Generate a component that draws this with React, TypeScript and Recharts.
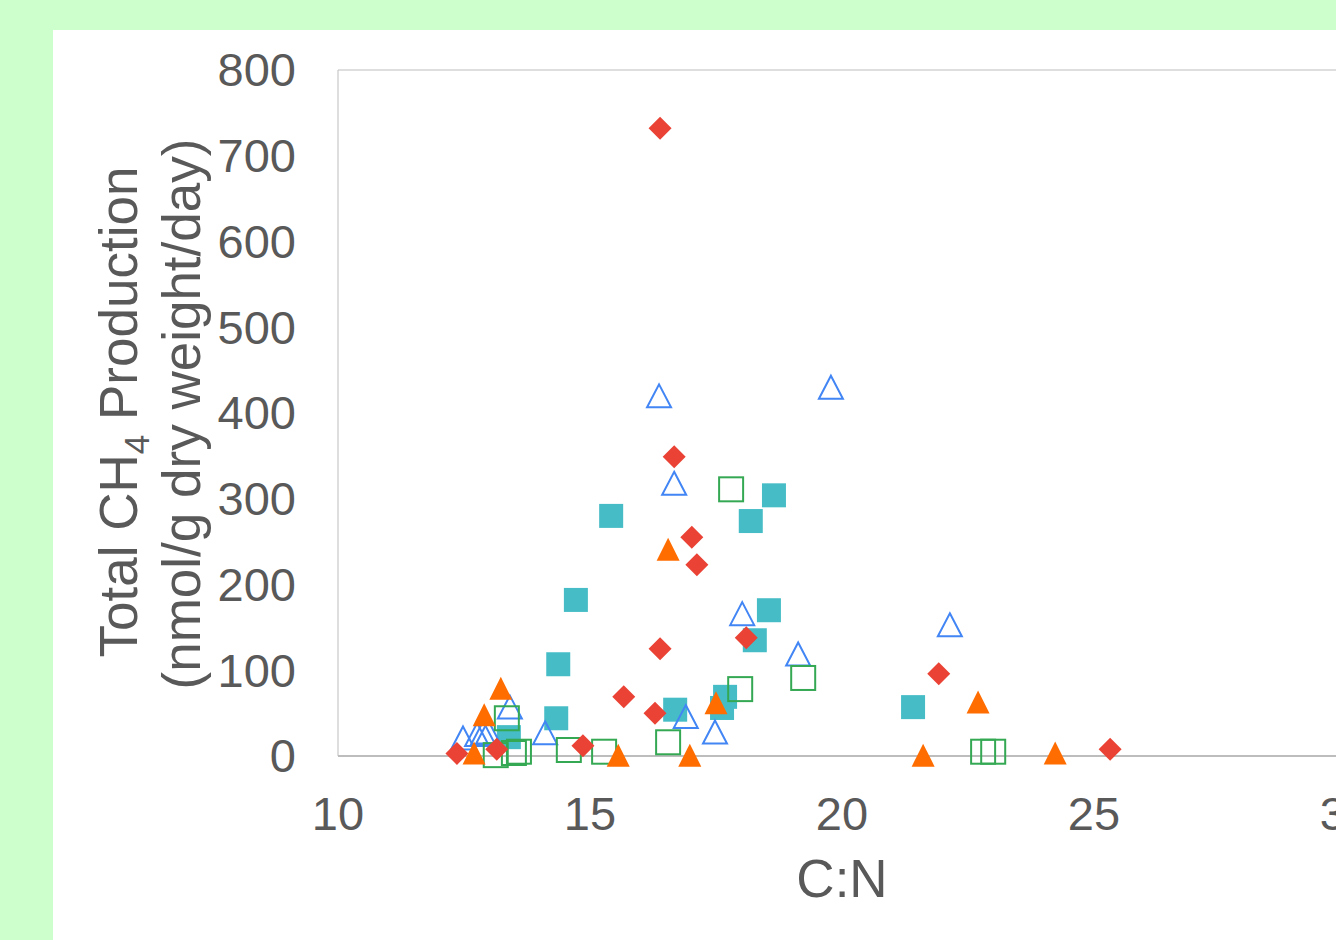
import { ScatterChart, Scatter, XAxis, YAxis, ReferenceLine } from 'recharts'

// series values (x = C:N, y = nmol/g dry weight/day)
const redX = [16.39, 16.67, 17.02, 17.12, 16.39, 18.1, 15.67, 16.29, 14.86, 12.36, 13.15, 21.92, 25.32]
const redY = [732, 349, 255, 223, 125, 138, 69, 50, 12, 3, 8, 96, 8]

const tealX = [15.42, 14.72, 14.37, 14.33, 13.39, 16.69, 17.68, 17.62, 18.19, 18.65, 18.55, 18.27, 21.41]
const tealY = [280, 182, 107, 44, 22, 54, 69, 56, 274, 304, 170, 135, 57]

const orangeX = [16.55, 13.23, 12.9, 12.7, 15.56, 16.98, 17.5, 21.61, 22.7, 24.23]
const orangeY = [241, 79, 48, 3.5, 1, 1, 62, 1, 63, 3.5]

const blueX = [16.37, 19.78, 16.67, 18.02, 19.13, 22.14, 16.9, 17.48, 14.11, 13.41, 12.48, 12.76, 12.88, 12.98]
const blueY = [420, 430, 318, 166, 119, 153, 46, 28, 27, 57, 21, 25, 27, 28]

const greenX = [17.8, 17.98, 19.23, 16.55, 14.58, 15.28, 13.35, 13.13, 13.49, 13.59, 22.8, 23.0]
const greenY = [311, 78, 91, 16, 7, 5, 44, 1, 3.5, 5, 5, 5]

const xTicks = [10, 15, 20, 25, 30]
const yTicks = [0, 100, 200, 300, 400, 500, 600, 700, 800]

const FONT = '"Liberation Sans", Arial, sans-serif'
const TEXT = '#595959'
const AXIS = '#BDBDBD'

const toPoints = (xs: number[], ys: number[]) => xs.map((x, i) => ({ x, y: ys[i] }))

const redData = toPoints(redX, redY)
const tealData = toPoints(tealX, tealY)
const orangeData = toPoints(orangeX, orangeY)
const blueData = toPoints(blueX, blueY)
const greenData = toPoints(greenX, greenY)

const Diamond = ({ cx, cy }: any) => (
  <polygon
    points={`${cx},${cy - 11.5} ${cx + 11.5},${cy} ${cx},${cy + 11.5} ${cx - 11.5},${cy}`}
    fill="#EA4335"
  />
)
const FilledSquare = ({ cx, cy }: any) => <rect x={cx - 12} y={cy - 12} width={24} height={24} fill="#46BDC6" />
const HollowSquare = ({ cx, cy }: any) => (
  <rect x={cx - 12} y={cy - 12} width={24} height={24} fill="none" stroke="#34A853" strokeWidth={2} />
)
const FilledTriangle = ({ cx, cy }: any) => (
  <polygon points={`${cx},${cy - 11.5} ${cx + 11.5},${cy + 11.5} ${cx - 11.5},${cy + 11.5}`} fill="#FF6D01" />
)
const HollowTriangle = ({ cx, cy }: any) => (
  <polygon
    points={`${cx},${cy - 11.5} ${cx + 12},${cy + 11.5} ${cx - 12},${cy + 11.5}`}
    fill="none"
    stroke="#4285F4"
    strokeWidth={2}
  />
)

const YTick = ({ x, y, payload }: any) => (
  <text x={x - 42} y={y} dy="0.35em" textAnchor="end" fontSize={47} fill={TEXT} fontFamily={FONT}>
    {payload.value}
  </text>
)
const XTick = ({ x, y, payload }: any) => (
  <text x={x} y={y + 74} textAnchor="middle" fontSize={47} fill={TEXT} fontFamily={FONT}>
    {payload.value}
  </text>
)

export default function App() {
  return (
    <div
      style={{
        position: 'absolute',
        left: 0,
        top: 0,
        width: 1336,
        height: 940,
        background: '#CCFFCC',
        overflow: 'hidden',
      }}
    >
      <div style={{ position: 'absolute', left: 53, top: 30, width: 1320, height: 910, background: '#fff' }}>
        <ScatterChart width={1320} height={910} margin={{ top: 40, right: 27, bottom: 0, left: 0 }}>
          <XAxis
            type="number"
            dataKey="x"
            domain={[10, 30]}
            ticks={xTicks}
            interval={0}
            height={184}
            tickLine={false}
            tickSize={0}
            tickMargin={0}
            axisLine={{ stroke: AXIS, strokeWidth: 2 }}
            tick={<XTick />}
          />
          <YAxis
            type="number"
            dataKey="y"
            domain={[0, 800]}
            ticks={yTicks}
            interval={0}
            width={285}
            tickLine={false}
            tickSize={0}
            tickMargin={0}
            axisLine={{ stroke: AXIS, strokeWidth: 1 }}
            tick={<YTick />}
          />
          <ReferenceLine y={800} stroke={AXIS} strokeWidth={1} ifOverflow="visible" />
          <ReferenceLine x={30} stroke={AXIS} strokeWidth={1} ifOverflow="visible" />
          <Scatter data={tealData} shape={<FilledSquare />} isAnimationActive={false} />
          <Scatter data={blueData} shape={<HollowTriangle />} isAnimationActive={false} />
          <Scatter data={greenData} shape={<HollowSquare />} isAnimationActive={false} />
          <Scatter data={redData} shape={<Diamond />} isAnimationActive={false} />
          <Scatter data={orangeData} shape={<FilledTriangle />} isAnimationActive={false} />
        </ScatterChart>
      </div>
      <svg
        width={1336}
        height={940}
        style={{ position: 'absolute', left: 0, top: 0, pointerEvents: 'none' }}
      >
        <text
          transform="translate(137,412) rotate(-90)"
          textAnchor="middle"
          fontSize={53}
          fill={TEXT}
          fontFamily={FONT}
        >
          Total CH
          <tspan fontSize={35} dy={12}>
            4
          </tspan>
          <tspan dy={-12}> Production</tspan>
        </text>
        <text
          transform="translate(200,414) rotate(-90)"
          textAnchor="middle"
          fontSize={53}
          fill={TEXT}
          fontFamily={FONT}
        >
          (nmol/g dry weight/day)
        </text>
        <text x={842} y={897} textAnchor="middle" fontSize={53} fill={TEXT} fontFamily={FONT}>
          C:N
        </text>
      </svg>
    </div>
  )
}
